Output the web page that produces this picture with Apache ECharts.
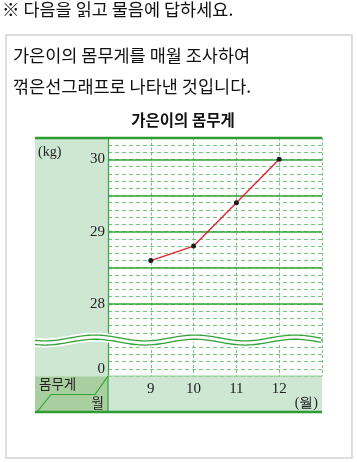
<!DOCTYPE html>
<html>
<head>
<meta charset="utf-8">
<script src="https://cdn.jsdelivr.net/npm/echarts@6/dist/echarts.min.js"></script>
<style>
  html, body { margin: 0; padding: 0; background: #ffffff; }
  #chart { width: 357px; height: 462px; }
</style>
</head>
<body>
<div id="chart"></div>
<script>
// ---- data ----
const months = [9, 10, 11, 12];
const weights = [28.6, 28.8, 29.4, 30.0];
const upperTickLabels = [28, 29, 30];
const lowerTickLabels = [0];
const monthLabelUnit = '(월)';
const weightUnit = '(kg)';
const chartTitle = '가은이의 몸무게';
const questionText = '※ 다음을 읽고 물음에 답하세요.';
const bodyLines = ['가은이의 몸무게를 매월 조사하여', '꺾은선그래프로 나타낸 것입니다.'];

// ---- styles ----
const KR = "'Noto Sans CJK KR', 'Noto Sans', sans-serif";
const SERIF = "'Liberation Serif', 'DejaVu Serif', serif";
const GREEN = '#35a23a';
const DASH_GREEN = '#78c47c';
const PANEL = '#cde7d2';
const HEAD = '#a9cfa0';

const plotLeft = 108, plotRight = 322, panelLeft = 35;
const plotTop = 137.6;
const pxPerKg = 72.3;
const upperMin = 27.5, upperMax = 30.3;
const lowerMin = -0.1, lowerMax = 0.4;
const upperH = (upperMax - upperMin) * pxPerKg;
const breakY = plotTop + upperH;
const lowerH = (lowerMax - lowerMin) * pxPerKg;
const plotBottom = breakY + lowerH;
const tableBottom = 412;

function near(v, list) { return list.some(t => Math.abs(v - t) < 1e-6); }

// decorative wave (axis break symbol)
function wavePts(offset) {
  const pts = [];
  for (let x = panelLeft; x <= plotRight + 0.01; x += 2) {
    const y = breakY - 2.9 * Math.cos(2 * Math.PI * (x - 95) / 100) + offset;
    pts.push([x, y]);
  }
  return pts;
}

const chart = echarts.init(document.getElementById('chart'), null, { renderer: 'canvas' });

const dashedSplit = { show: true, lineStyle: { color: DASH_GREEN, width: 1.2, type: [4, 3] } };
const solidSplit = { show: true, lineStyle: { color: GREEN, width: 1.5, type: 'solid' } };
const vSplit = { show: true, lineStyle: { color: DASH_GREEN, width: 1, type: [3, 2] } };

chart.setOption({
  animation: false,
  grid: [
    { left: plotLeft, top: plotTop, width: plotRight - plotLeft, height: upperH },
    { left: plotLeft, top: breakY, width: plotRight - plotLeft, height: lowerH }
  ],
  xAxis: [
    { type: 'value', gridIndex: 0, min: 8, max: 13, interval: 1,
      axisLine: { show: false }, axisTick: { show: false }, axisLabel: { show: false },
      splitLine: vSplit },
    { type: 'value', gridIndex: 1, min: 8, max: 13, interval: 1,
      axisLine: { show: false }, axisTick: { show: false },
      axisLabel: { show: true, margin: 5, fontFamily: SERIF, fontSize: 15, color: '#222',
        formatter: v => near(v, months) ? String(Math.round(v)) : '' },
      splitLine: vSplit }
  ],
  yAxis: [
    { type: 'value', gridIndex: 0, position: 'left', min: upperMin, max: upperMax, interval: 0.1,
      axisLine: { show: true, lineStyle: { color: GREEN, width: 1.2 } },
      axisTick: { show: false }, axisLabel: { show: false }, splitLine: dashedSplit, z: 1 },
    { type: 'value', gridIndex: 0, position: 'left', min: upperMin, max: upperMax, interval: 0.5,
      axisLine: { show: false }, axisTick: { show: false },
      axisLabel: { show: true, margin: 3, fontFamily: SERIF, fontSize: 15, color: '#222',
        formatter: v => near(v, upperTickLabels) ? String(Math.round(v)) : '' },
      splitLine: solidSplit, z: 2 },
    { type: 'value', gridIndex: 1, position: 'left', min: lowerMin, max: lowerMax, interval: 0.1,
      axisLine: { show: true, lineStyle: { color: GREEN, width: 1.2 } },
      axisTick: { show: false },
      axisLabel: { show: true, margin: 3, fontFamily: SERIF, fontSize: 15, color: '#222',
        formatter: v => near(v, lowerTickLabels) ? String(Math.round(v)) : '' },
      splitLine: dashedSplit }
  ],
  series: [{
    type: 'line', xAxisIndex: 0, yAxisIndex: 0,
    data: months.map((m, i) => [m, weights[i]]),
    lineStyle: { color: '#e3202c', width: 1.3 },
    symbol: 'circle', symbolSize: 5,
    itemStyle: { color: '#1c1c1c' },
    z: 10
  }],
  graphic: [
    { type: 'rect', z: -10, shape: { x: 6, y: 35, width: 346, height: 423 },
      style: { fill: '#fff', stroke: '#d2d2d2', lineWidth: 1.5 } },
    { type: 'rect', z: -5, shape: { x: panelLeft, y: plotTop, width: plotLeft - panelLeft, height: plotBottom - plotTop },
      style: { fill: PANEL } },
    { type: 'rect', z: -5, shape: { x: panelLeft, y: plotBottom, width: plotLeft - panelLeft, height: tableBottom - plotBottom },
      style: { fill: HEAD } },
    { type: 'rect', z: -5, shape: { x: plotLeft, y: plotBottom, width: plotRight - plotLeft, height: tableBottom - plotBottom },
      style: { fill: PANEL } },
    { type: 'line', z: 20, shape: { x1: plotLeft, y1: plotBottom, x2: plotLeft, y2: tableBottom },
      style: { stroke: GREEN, lineWidth: 1.2 } },
    { type: 'line', z: 20, shape: { x1: plotLeft, y1: plotBottom, x2: plotRight, y2: plotBottom },
      style: { stroke: '#9fd3a3', lineWidth: 1.2 } },
    { type: 'polyline', z: 20, shape: { points: [[plotLeft, plotBottom], [95, 394.5], [51, 394.5], [37, tableBottom]] },
      style: { stroke: GREEN, lineWidth: 1.2, fill: null } },
    // wave break
    { type: 'polyline', z: 30, shape: { points: wavePts(0) },
      style: { stroke: '#ffffff', lineWidth: 9, fill: null } },
    { type: 'polyline', z: 31, shape: { points: wavePts(-2.1) },
      style: { stroke: GREEN, lineWidth: 1.3, fill: null } },
    { type: 'polyline', z: 31, shape: { points: wavePts(2.1) },
      style: { stroke: GREEN, lineWidth: 1.3, fill: null } },
    // thick border lines
    { type: 'line', z: 40, shape: { x1: panelLeft, y1: 138, x2: plotRight, y2: 138 },
      style: { stroke: '#2c9c33', lineWidth: 2.5 } },
    { type: 'line', z: 40, shape: { x1: panelLeft, y1: tableBottom, x2: plotRight, y2: tableBottom },
      style: { stroke: '#2c9c33', lineWidth: 2.5 } },
    // texts
    { type: 'text', z: 50, x: 2, y: 9, style: { text: questionText, font: '17.5px ' + KR, fill: '#111', textAlign: 'left', textVerticalAlign: 'middle' } },
    { type: 'text', z: 50, x: 13, y: 55, style: { text: bodyLines[0], font: '17.5px ' + KR, fill: '#111', textAlign: 'left', textVerticalAlign: 'middle' } },
    { type: 'text', z: 50, x: 13, y: 86, style: { text: bodyLines[1], font: '17.5px ' + KR, fill: '#111', textAlign: 'left', textVerticalAlign: 'middle' } },
    { type: 'text', z: 50, x: 183, y: 120, style: { text: chartTitle, font: 'bold 15.5px ' + KR, fill: '#111', textAlign: 'center', textVerticalAlign: 'middle' } },
    { type: 'text', z: 50, x: 38, y: 152, style: { text: weightUnit, font: '14px ' + SERIF, fill: '#222', textAlign: 'left', textVerticalAlign: 'middle' } },
    { type: 'text', z: 50, x: 39, y: 384, style: { text: '몸무게', font: '13.5px ' + KR, fill: '#222', textAlign: 'left', textVerticalAlign: 'middle' } },
    { type: 'text', z: 50, x: 104, y: 403, style: { text: '월', font: '13.5px ' + KR, fill: '#222', textAlign: 'right', textVerticalAlign: 'middle' } },
    { type: 'text', z: 50, x: 318, y: 403, style: { text: monthLabelUnit, font: '14px ' + SERIF, fill: '#222', textAlign: 'right', textVerticalAlign: 'middle' } }
  ]
});
</script>
</body>
</html>
